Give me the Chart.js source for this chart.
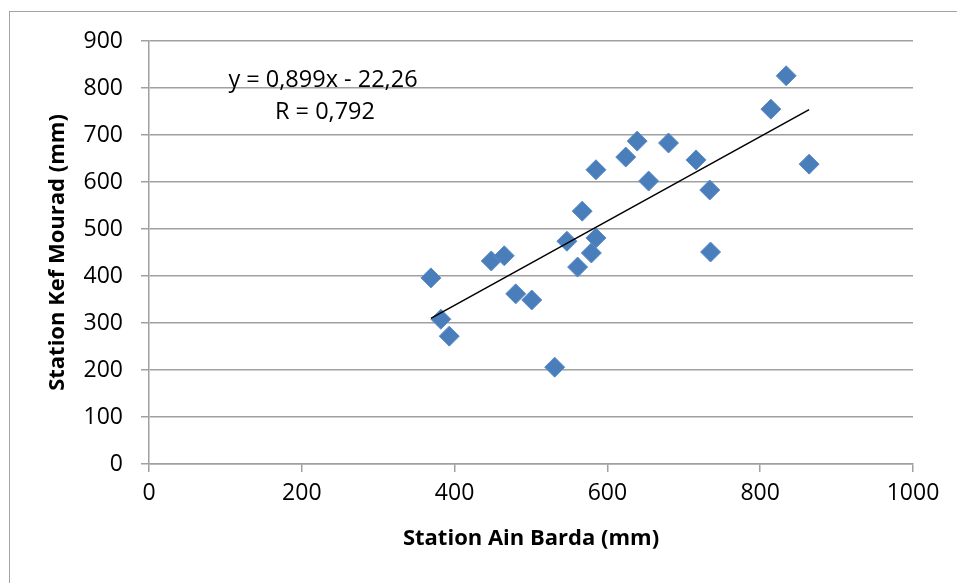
<!DOCTYPE html>
<html lang="fr">
<head>
    <meta charset="UTF-8">
    <title>Station Ain Barda / Station Kef Mourad</title>
    <script src="https://cdn.jsdelivr.net/npm/chart.js"></script>
    <style>
        html, body {
            margin: 0;
            padding: 0;
            background: #ffffff;
            overflow: hidden;
        }
        #wrap {
            position: relative;
            width: 957px;
            height: 583px;
        }
        #frame {
            position: absolute;
            left: 9px;
            top: 11px;
            width: 960px;
            height: 600px;
            border: 1.5px solid #a3a3a3;
            box-sizing: border-box;
        }
        canvas {
            position: absolute;
            left: 0;
            top: 0;
        }
    </style>
</head>
<body>
<div id="wrap">
    <div id="frame"></div>
    <canvas id="myChart" width="957" height="583"></canvas>
</div>

<script>
    // valeurs
    const ainBarda = [369, 382, 393, 448, 465, 480, 501, 531, 547, 561, 567, 579,
                      585, 585, 624, 639, 654, 680, 716, 734, 735, 814, 834, 864];
    const kefMourad = [396, 308, 272, 432, 443, 362, 349, 206, 474, 419, 538, 449,
                       481, 626, 653, 687, 602, 683, 647, 583, 451, 755, 826, 638];

    // droite de régression (y = 0,899x - 22,26)
    const trendX = [369, 864];
    const trendY = [310, 754];

    const xTicks = [0, 200, 400, 600, 800, 1000];
    const yTicks = [0, 100, 200, 300, 400, 500, 600, 700, 800, 900];

    const equationText = 'y = 0,899x - 22,26';
    const rText = 'R = 0,792';

    const points = ainBarda.map((x, i) => ({ x: x, y: kefMourad[i] }));
    const trend = trendX.map((x, i) => ({ x: x, y: trendY[i] }));

    const FONT = '"Open Sans", Lato, sans-serif';
    const gridColor = '#a0a0a0';

    // texte de l'équation dans la zone du graphique
    const equationPlugin = {
        id: 'equation',
        afterDraw(chart) {
            const ctx = chart.ctx;
            const a = chart.chartArea;
            ctx.save();
            ctx.fillStyle = '#000';
            ctx.font = '23.5px ' + FONT;
            ctx.textAlign = 'center';
            ctx.textBaseline = 'middle';
            ctx.fillText(equationText, a.left + 174, a.top + 39);
            ctx.fillText(rText, a.left + 176, a.top + 71);
            ctx.restore();
        }
    };

    const ctx = document.getElementById('myChart').getContext('2d');
    const myChart = new Chart(ctx, {
        type: 'scatter',
        data: {
            datasets: [
                {
                    label: 'Tendance',
                    type: 'line',
                    data: trend,
                    borderColor: '#000000',
                    borderWidth: 1.5,
                    pointRadius: 0,
                    fill: false,
                    order: 0
                },
                {
                    label: 'Pluies',
                    data: points,
                    pointStyle: 'rectRot',
                    pointRadius: 10,
                    pointHoverRadius: 10,
                    backgroundColor: '#4a7ebb',
                    borderColor: '#5a8cc6',
                    borderWidth: 1,
                    order: 1
                }
            ]
        },
        options: {
            responsive: false,
            animation: false,
            layout: {
                padding: { top: 41, right: 44, bottom: 0, left: 0 }
            },
            plugins: {
                legend: { display: false },
                tooltip: { enabled: false }
            },
            scales: {
                x: {
                    type: 'linear',
                    min: 0,
                    max: 1000,
                    afterBuildTicks: s => { s.ticks = xTicks.map(v => ({ value: v })); },
                    afterFit: s => { s.height = 119; },
                    grid: {
                        drawOnChartArea: false,
                        drawTicks: true,
                        tickLength: 8,
                        color: gridColor,
                        lineWidth: 1.5
                    },
                    border: { color: gridColor, width: 1.5 },
                    ticks: {
                        color: '#000',
                        font: { family: FONT, size: 23 },
                        padding: 8,
                        maxRotation: 0,
                        callback: v => String(v)
                    },
                    title: {
                        display: true,
                        text: 'Station Ain Barda (mm)',
                        color: '#000',
                        font: { family: FONT, size: 22, weight: 'bold' },
                        padding: { top: 0, bottom: 31 }
                    }
                },
                y: {
                    type: 'linear',
                    min: 0,
                    max: 900,
                    afterBuildTicks: s => { s.ticks = yTicks.map(v => ({ value: v })); },
                    afterFit: s => { s.width = 149; },
                    grid: {
                        drawOnChartArea: true,
                        drawTicks: true,
                        tickLength: 8,
                        color: gridColor,
                        lineWidth: 1.5
                    },
                    border: { color: gridColor, width: 1.5 },
                    ticks: {
                        color: '#000',
                        font: { family: FONT, size: 23 },
                        padding: 18,
                        callback: v => String(v)
                    },
                    title: {
                        display: true,
                        text: 'Station Kef Mourad (mm)',
                        color: '#000',
                        font: { family: FONT, size: 22, weight: 'bold' },
                        padding: { top: 45, bottom: 0 }
                    }
                }
            }
        },
        plugins: [equationPlugin]
    });
</script>
</body>
</html>
